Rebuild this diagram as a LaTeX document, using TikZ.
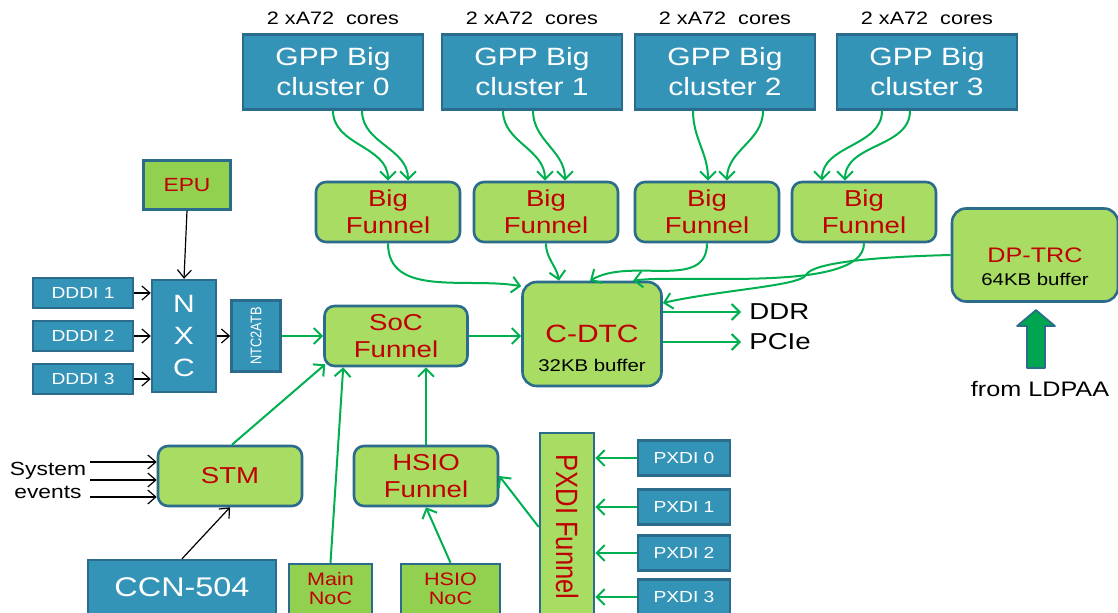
\documentclass[tikz,border=0pt]{standalone}
\usepackage{graphicx}
\usepackage{fontspec}
\setmainfont{Liberation Sans}[FakeStretch=1.2]
\newfontfamily\rotfont{Liberation Sans}[FakeStretch=0.83]
\usetikzlibrary{arrows.meta, positioning, calc}

\definecolor{boxblue}{HTML}{3494B8}
\definecolor{boxedge}{HTML}{2B6B8C}
\definecolor{lightgreen}{HTML}{A8DC62}
\definecolor{darkgreen}{HTML}{92D050}
\definecolor{textred}{HTML}{C00000}
\definecolor{linegreen}{HTML}{00B050}
\definecolor{arrowgreen}{HTML}{00A550}

\newcommand\gppsz{\fontsize{12.5pt}{15pt}\selectfont}
\newcommand\funsz{\fontsize{11.5pt}{13.5pt}\selectfont}
\newcommand\coresz{\fontsize{9pt}{10pt}\selectfont}
\newcommand\bufsz{\fontsize{8.5pt}{10pt}\selectfont}
\newcommand\dddisz{\fontsize{8pt}{10pt}\selectfont}
\newcommand\nocsz{\fontsize{9pt}{9.5pt}\selectfont}

\tikzset{
  bluebox/.style={draw=boxedge, fill=boxblue, line width=1.2pt, text=white, align=center, inner sep=0pt},
  greenbox/.style={draw=boxedge, fill=lightgreen, line width=1.3pt, text=textred, align=center, inner sep=0pt, rounded corners=5pt},
  nocbox/.style={draw=boxedge, fill=darkgreen, line width=1.2pt, text=textred, align=center, inner sep=0pt},
  garrow/.style={draw=linegreen, line width=1pt, -{Straight Barb[length=4pt,width=8pt]}},
  barrow/.style={draw=black, line width=0.6pt, -{Straight Barb[length=4pt,width=7pt]}},
}

\begin{document}
\begin{tikzpicture}[x=0.5pt, y=-0.5pt]
  \clip (0,0) rectangle (1118,613);

  \foreach \i/\x in {0/333, 1/532, 2/725, 3/927} {
    \node[bluebox, minimum width=90pt, minimum height=37.5pt, font=\gppsz] (gpp\i) at (\x,72) {GPP Big\\cluster \i};
    \node[above=4pt of gpp\i, inner sep=0pt, font=\coresz] (cores\i) {2 xA72\ \ cores};
  }
  \foreach \i/\x in {0/388, 1/546, 2/707, 3/864}
    \node[greenbox, minimum width=72pt, minimum height=30pt, font=\funsz] (bf\i) at (\x,212) {Big\\Funnel};

  \node[greenbox, rounded corners=7pt, minimum width=69.5pt, minimum height=52pt, font=\gppsz,
        label={[black, font=\bufsz, anchor=base, yshift=8pt]south:32KB buffer}] (cdtc) at (592,334) {C-DTC};
  \node[greenbox, rounded corners=7pt, minimum width=83pt, minimum height=46.5pt, font=\fontsize{10.5pt}{12pt}\selectfont,
        label={[black, font=\bufsz, anchor=base, yshift=8.5pt]south:64KB buffer}] (dptrc) at (1035,255) {DP-TRC};
  \node[anchor=west, inner sep=4pt, font=\funsz] (ddr) at (741,312) {DDR};
  \node[anchor=west, inner sep=4pt, font=\funsz] (pcie) at (741,342) {PCIe};

  \draw[draw=boxedge, fill=arrowgreen, line width=0.8pt, line join=round]
    (1027,368) -- (1027,326) -- (1017,326) -- (1036,310) -- (1055,326) -- (1045,326) -- (1045,368) -- cycle;
  \node[font=\fontsize{10.5pt}{12pt}\selectfont] (ldpaa) at (1040,389) {from LDPAA};

  \node[greenbox, minimum width=71.5pt, minimum height=30pt, font=\funsz] (soc) at (396,336) {SoC\\Funnel};
  \node[bluebox, minimum width=32pt, minimum height=56pt, font=\fontsize{12.5pt}{16pt}\selectfont] (nxc) at (184,336) {N\\X\\C};
  \node[bluebox, minimum width=24.5pt, minimum height=35.5pt] (ntc) at (256,336) {\rotatebox{90}{\rotfont\fontsize{7.7pt}{9pt}\selectfont NTC2ATB}};
  \node[nocbox, minimum width=43.5pt, minimum height=24.5pt, font=\fontsize{9.5pt}{11pt}\selectfont] (epu) at (187,185) {EPU};
  \foreach \i/\y in {1/293, 2/336, 3/379}
    \node[bluebox, minimum width=50pt, minimum height=15pt, font=\dddisz] (dddi\i) at (83,\y) {DDDI \i};

  \node[greenbox, minimum width=72pt, minimum height=30pt, font=\funsz] (stm) at (230,476) {STM};
  \node[align=center, inner sep=2pt, font=\fontsize{9.5pt}{11.5pt}\selectfont] (sysev) at (48,480) {System\\events};
  \node[bluebox, minimum width=94pt, minimum height=27.5pt, font=\fontsize{13.5pt}{15pt}\selectfont] (ccn) at (182,587.5) {CCN-504};
  \node[nocbox, minimum width=41.5pt, minimum height=25pt, font=\nocsz] (mainnoc) at (330.5,589) {Main\\NoC};
  \node[nocbox, minimum width=49.5pt, minimum height=25pt, font=\nocsz] (hsionoc) at (450.5,589) {HSIO\\NoC};
  \node[greenbox, minimum width=72pt, minimum height=30pt, font=\funsz] (hsio) at (426,476) {HSIO\\Funnel};
  \node[greenbox, rounded corners=0pt, minimum width=27pt, minimum height=94pt] (pxdif) at (567,527) {\rotatebox{-90}{\rotfont\fontsize{15.4pt}{17pt}\selectfont PXDI Funnel}};
  \foreach \i/\y in {0/458, 1/507, 2/553, 3/597}
    \node[bluebox, minimum width=46pt, minimum height=17.5pt, font=\dddisz] (pxdi\i) at (684,\y) {PXDI \i};

  \foreach \i/\a/\b/\c/\d in {0/0/29/0/20, 1/-29/1/-1/19, 2/-32/38/1/20, 3/-45/-17/-42/-19} {
    \draw[garrow] ($(gpp\i.south)+(\a,0)$) to[out=-90, in=90] ($(bf\i.north)+(\c,0)$);
    \draw[garrow] ($(gpp\i.south)+(\b,0)$) to[out=-90, in=90] ($(bf\i.north)+(\d,0)$);
  }
  \draw[garrow] (bf0.south) to[out=-90, in=170] (cdtc.146);
  \draw[garrow] (bf1.south) to[out=-90, in=100] ($(cdtc.north)+(-33,0)$);
  \draw[garrow] (bf2.south) to[out=-90, in=30] ($(cdtc.north)+(-2,0)$);
  \draw[garrow] (bf3.south) to[out=-90, in=8, looseness=0.55] ($(cdtc.north)+(41,0)$);
  \draw[garrow] (dptrc.west) .. controls (870,257) and (812,263) .. (806,275)
    .. controls (800,286) and (720,290) .. ($(cdtc.east)+(0,-31)$);
  \draw[garrow] ($(cdtc.east)+(0,-22)$) -- (ddr.west);
  \draw[garrow] ($(cdtc.east)+(0,8)$) -- (pcie.west);
  \draw[garrow] (soc.east) -- (cdtc.west |- soc.east);

  \draw[barrow] (epu.south) -- (nxc.north);
  \foreach \i in {1,2,3}
    \draw[barrow] (dddi\i.east) -- (dddi\i.east -| nxc.west);
  \draw[barrow] (nxc.east) -- (ntc.west);
  \draw[garrow] (ntc.east) -- (soc.west);
  \draw[garrow] ($(stm.north)+(2,0)$) -- ($(soc.south west)+(2,-3)$);
  \draw[garrow] (mainnoc.north) -- ($(soc.south west)+(20,0)$);
  \draw[garrow] (hsio.north) -- (hsio.north |- soc.south);
  \draw[garrow] (hsionoc.north) -- (hsio.south);
  \draw[garrow] (pxdif.west) -- (hsio.east);
  \foreach \i in {0,1,2,3}
    \draw[garrow] (pxdi\i.west) -- (pxdi\i.west -| pxdif.east);

  \foreach \dy in {-18,0,17}
    \draw[barrow] ($(sysev.east)+(0,\dy)$) -- ($(stm.west)+(0,\dy+4)$);
  \draw[barrow] (ccn.north) -- (stm.south);
\end{tikzpicture}
\end{document}
